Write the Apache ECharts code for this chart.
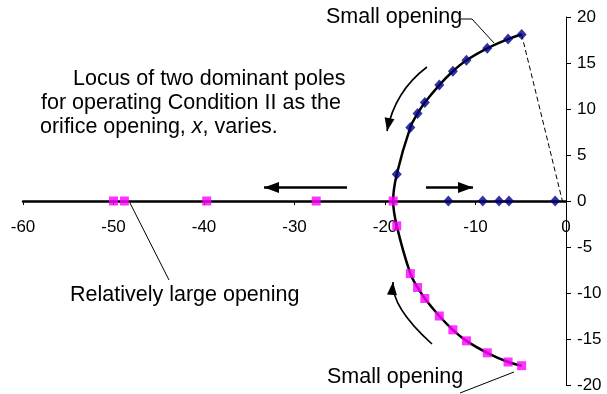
<!DOCTYPE html>
<html>
<head>
<meta charset="utf-8">
<script src="https://cdn.jsdelivr.net/npm/echarts@6/dist/echarts.min.js"></script>
<style>
  html, body { margin: 0; padding: 0; background: #fff; }
  #chart { width: 607px; height: 394px; }
</style>
</head>
<body>
<div id="chart"></div>
<script>
// Complex-plane locus of the two dominant poles (real part, imaginary part)
const branchRe = [-19.1, -18.7, -17.2, -16.4, -15.6, -14.0, -12.5, -11.0, -8.7, -6.4, -4.9];
const upperIm  = [0, 2.9, 8.0, 9.5, 10.7, 12.6, 14.1, 15.3, 16.6, 17.6, 18.1];
const lowerIm  = [0, -2.7, -7.9, -9.4, -10.6, -12.5, -14.0, -15.2, -16.5, -17.5, -17.9];
// Poles sitting on the real axis
const realDiamondRe = [-13.0, -9.2, -7.4, -6.3, -1.2];
const realSquareRe  = [-50.0, -48.8, -39.7, -27.6];
// Dashed link from the small-opening pole back to the origin
const dashedRe = [-4.9, -0.4];
const dashedIm = [18.1, 0];

const xTicks = [-60, -50, -40, -30, -20, -10, 0];
const yTicks = [-20, -15, -10, -5, 0, 5, 10, 15, 20];

const FONT = "'Liberation Sans', Arial, sans-serif";
const NAVY = '#000080';
const MAGENTA = '#FF00FF';

// Full curve: lower branch reversed, then upper branch (shares the real-axis point)
const curve = [];
for (let i = branchRe.length - 1; i >= 0; i--) curve.push([branchRe[i], lowerIm[i]]);
for (let i = 1; i < branchRe.length; i++) curve.push([branchRe[i], upperIm[i]]);

const diamonds = branchRe.slice(1).map((x, i) => [x, upperIm[i + 1]])
  .concat(realDiamondRe.map(x => [x, 0]));
const squares = branchRe.map((x, i) => [x, lowerIm[i]])
  .concat(realSquareRe.map(x => [x, 0]));
const dashed = dashedRe.map((x, i) => [x, dashedIm[i]]);

const GRID = { left: 23, right: 41, top: 17, bottom: 9 };
const plotH = 394 - GRID.top - GRID.bottom;

const chart = echarts.init(document.getElementById('chart'), null, { renderer: 'canvas' });

function arrowHead(tip, from, len, half) {
  const dx = tip[0] - from[0], dy = tip[1] - from[1];
  const d = Math.hypot(dx, dy);
  const ux = dx / d, uy = dy / d;
  const bx = tip[0] - ux * len, by = tip[1] - uy * len;
  return [tip, [bx - uy * half, by + ux * half], [bx + uy * half, by - ux * half]];
}

function curvedArrow(p0, c, p2) {
  return [
    { type: 'bezierCurve', shape: { x1: p0[0], y1: p0[1], cpx1: c[0], cpy1: c[1], x2: p2[0], y2: p2[1] },
      style: { stroke: '#000', lineWidth: 1.6, fill: null }, z: 10 },
    { type: 'polygon', shape: { points: arrowHead(p2, c, 13, 5) }, style: { fill: '#000' }, z: 10 }
  ];
}

function straightArrow(from, tip) {
  return [
    { type: 'line', shape: { x1: from[0], y1: from[1], x2: tip[0], y2: tip[1] },
      style: { stroke: '#000', lineWidth: 2.5 }, z: 10 },
    { type: 'polygon', shape: { points: arrowHead(tip, from, 15, 5.5) }, style: { fill: '#000' }, z: 10 }
  ];
}

const TXT = '21.5px ' + FONT;

function label(text, x, y) {
  return {
    type: 'text', x: x, y: y, z: 10,
    style: { text: text, font: TXT, fill: '#000', textAlign: 'left', textVerticalAlign: 'middle' }
  };
}

const graphics = [
  label('Locus of two dominant poles', 73, 79),
  label('for operating Condition II as the', 41, 103),
  {
    type: 'text', x: 40, y: 127, z: 10,
    style: {
      text: 'orifice opening, {i|x}, varies.',
      font: TXT, fill: '#000', textVerticalAlign: 'middle',
      rich: { i: { fontStyle: 'italic', fontSize: 21.5, fontFamily: FONT } }
    }
  },
  label('Small opening', 326, 17),
  label('Small opening', 327, 377),
  label('Relatively large opening', 70, 295),
  { type: 'polyline', shape: { points: [[461, 19], [472, 19], [494, 43]] }, style: { stroke: '#000', lineWidth: 1, fill: null }, z: 10 },
  { type: 'line', shape: { x1: 460, y1: 393, x2: 514, y2: 372 }, style: { stroke: '#000', lineWidth: 1 }, z: 10 },
  { type: 'line', shape: { x1: 130, y1: 203, x2: 169, y2: 280 }, style: { stroke: '#000', lineWidth: 1 }, z: 10 }
]
  .concat(straightArrow([347, 187.5], [264, 187.5]))
  .concat(straightArrow([426, 187.5], [473, 187.5]))
  .concat(curvedArrow([427, 67], [395, 91], [387, 131]))
  .concat(curvedArrow([432, 344], [391, 307], [393, 282]));

chart.setOption({
  animation: false,
  backgroundColor: '#fff',
  grid: Object.assign({ containLabel: false, outerBoundsMode: 'none' }, GRID),
  xAxis: {
    type: 'value', min: xTicks[0], max: xTicks[xTicks.length - 1], interval: 10,
    // real axis drawn through Im = 0, the middle of the symmetric vertical range
    position: 'bottom', offset: -plotH / 2,
    axisLine: { onZero: false, lineStyle: { color: '#000', width: 2.5 } },
    axisTick: { show: true, length: 4, lineStyle: { color: '#000', width: 1 } },
    axisLabel: { color: '#000', fontSize: 17, fontFamily: FONT, margin: 18, hideOverlap: false,
      showMinLabel: true, showMaxLabel: true,
      formatter: v => xTicks.includes(v) ? String(v) : '' },
    splitLine: { show: false }
  },
  yAxis: {
    type: 'value', position: 'right', min: yTicks[0], max: yTicks[yTicks.length - 1], interval: 5,
    axisLine: { onZero: false, lineStyle: { color: '#000', width: 1 } },
    axisTick: { show: true, inside: false, length: 5, lineStyle: { color: '#000', width: 1 } },
    axisLabel: { color: '#000', fontSize: 17, fontFamily: FONT, margin: 11, hideOverlap: false,
      showMinLabel: true, showMaxLabel: true,
      formatter: v => yTicks.includes(v) ? String(v) : '' },
    splitLine: { show: false }
  },
  series: [
    {
      type: 'line', data: dashed, showSymbol: false, symbol: 'none',
      lineStyle: { color: '#000', width: 1, type: [5, 3] }, z: 2
    },
    {
      type: 'line', data: curve, smooth: 0.35, showSymbol: false, symbol: 'none',
      lineStyle: { color: '#000', width: 2.5 }, z: 3
    },
    {
      type: 'scatter', data: diamonds, symbol: 'diamond', symbolSize: [10, 11],
      itemStyle: { color: NAVY }, z: 5
    },
    {
      type: 'scatter', data: squares, symbol: 'rect', symbolSize: 9,
      itemStyle: { color: MAGENTA }, z: 5
    }
  ],
  graphic: graphics
});
</script>
</body>
</html>
